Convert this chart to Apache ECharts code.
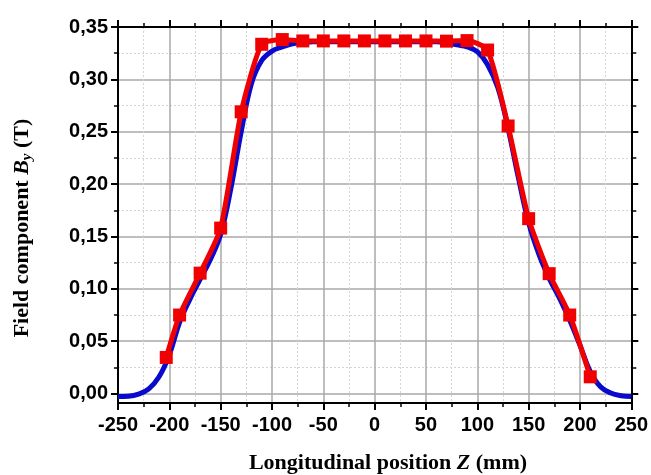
<!DOCTYPE html>
<html>
<head>
<meta charset="utf-8">
<script src="https://cdn.jsdelivr.net/npm/echarts@6/dist/echarts.min.js"></script>
<style>
html,body{margin:0;padding:0;background:#fff;}
#chart{width:651px;height:475px;}
</style>
</head>
<body>
<div id="chart"></div>
<script>
// Measured data (red, with square markers)
var redZ = [-203,-190,-170,-150,-130,-110,-90,-70,-50,-30,-10,10,30,50,70,90,110,130,150,170,190,210];
var redB = [0.0345,0.075,0.115,0.158,0.269,0.3335,0.338,0.3367,0.3367,0.3367,0.3367,0.3367,0.3367,0.3367,0.3365,0.337,0.328,0.2555,0.167,0.1145,0.075,0.016];

// Simulated curve (blue)
var blueZ = [-250,-240,-230,-220,-210,-200,-190,-180,-170,-160,-150,-140,-130,-120,-110,-100,-90,-80,-70,-60,-50,-40,-30,-20,-10,0,10,20,30,40,50,60,70,80,90,100,110,120,130,140,150,160,170,180,190,200,210,220,230,240,250];
var blueB = [-0.0028,-0.0025,-0.0005,0.0045,0.016,0.037,0.068,0.090,0.109,0.128,0.152,0.196,0.250,0.296,0.318,0.327,0.331,0.334,0.335,0.336,0.336,0.336,0.336,0.336,0.336,0.336,0.336,0.336,0.336,0.336,0.336,0.336,0.335,0.333,0.331,0.3265,0.314,0.292,0.253,0.206,0.163,0.133,0.110,0.091,0.070,0.046,0.021,0.0065,0.0005,-0.002,-0.0028];

// Tick labels
var xTicks = [-250,-200,-150,-100,-50,0,50,100,150,200,250];
var yMajor = [0,0.05,0.10,0.15,0.20,0.25,0.30,0.35];
var yMinor = [0.025,0.075,0.125,0.175,0.225,0.275,0.325];

var xTitle = 'Longitudinal position ';
var yTitle = 'Field component ';

function zip(a, b){ return a.map(function(v,i){ return [v, b[i]]; }); }

var chart = echarts.init(document.getElementById('chart'), null, {renderer:'canvas'});
var labelFont = {fontFamily:'Liberation Sans, Arial, sans-serif', fontWeight:'bold', fontSize:20, color:'#000'};
var axisLine = {show:true, onZero:false, lineStyle:{color:'#000', width:2}};
var yMinVal = -0.009, yMaxVal = 0.35;

function yAxisDef(pos, ticks, len, labels, split, showLine){
  return {
    type:'value', position:pos, min:yMinVal, max:yMaxVal,
    splitNumber:7, minInterval:0.05, maxInterval:0.05,
    axisLine: showLine ? axisLine : {show:false, onZero:false},
    axisTick:{show:true, length:len, customValues:ticks, lineStyle:{color:'#000', width: len>5?2:1.5}},
    axisLabel: labels ? Object.assign({show:true, margin:10, customValues:ticks,
      formatter:function(v){ return v.toFixed(2).replace('.', ','); }}, labelFont) : {show:false},
    splitLine: split ? split : {show:false}
  };
}

var option = {
  animation:false,
  backgroundColor:'#fff',
  grid:{left:118, right:19, top:27, bottom:72, containLabel:false},
  xAxis:[
    {type:'value', position:'bottom', min:-250, max:250, interval:50,
     axisLine:axisLine,
     axisTick:{show:true, length:7, lineStyle:{color:'#000', width:2}},
     minorTick:{show:true, splitNumber:2, length:4, lineStyle:{color:'#000', width:1.5}},
     axisLabel:Object.assign({margin:12, customValues:xTicks, formatter:function(v){return String(v);}}, labelFont),
     splitLine:{show:true, lineStyle:{color:'#a8a8a8', width:1.5}},
     minorSplitLine:{show:true, lineStyle:{color:'#d4d4d4', width:1, type:[2,2]}}
    },
    {type:'value', position:'top', min:-250, max:250, interval:50,
     axisLine:axisLine,
     axisTick:{show:true, length:7, lineStyle:{color:'#000', width:2}},
     minorTick:{show:true, splitNumber:2, length:4, lineStyle:{color:'#000', width:1.5}},
     axisLabel:{show:false}, splitLine:{show:false}
    }
  ],
  yAxis:[
    yAxisDef('left', yMinor, 4, false, {show:true, lineStyle:{color:'#d4d4d4', width:1, type:[2,2]}}, false),
    yAxisDef('right', yMinor, 5, false, null, false),
    yAxisDef('left', yMajor, 7, true, {show:true, lineStyle:{color:'#a8a8a8', width:1.5}}, true),
    yAxisDef('right', yMajor, 7, false, null, true)
  ],
  series:[
    {type:'line', name:'sim', xAxisIndex:0, yAxisIndex:2, data:zip(blueZ, blueB),
     smooth:0.4, showSymbol:false, symbol:'none',
     lineStyle:{color:'#0a0acc', width:5}, z:3},
    {type:'line', name:'meas', xAxisIndex:0, yAxisIndex:2, data:zip(redZ, redB),
     smooth:0.2, symbol:'rect', symbolSize:13,
     itemStyle:{color:'#f00000'},
     lineStyle:{color:'#f00000', width:5}, z:4}
  ],
  graphic:[
    {type:'text', x:388, y:463, style:{
      text: xTitle + '{i|Z} (mm)',
      fontFamily:'Liberation Serif, Times New Roman, serif', fontWeight:'bold', fontSize:22, fill:'#000',
      align:'center', verticalAlign:'middle',
      rich:{i:{fontFamily:'Liberation Serif, Times New Roman, serif', fontWeight:'bold', fontStyle:'italic', fontSize:22, fill:'#000'}}
    }},
    {type:'text', x:22, y:228, rotation:Math.PI/2, style:{
      text: yTitle + '{i|B}{sub|y} (T)',
      fontFamily:'Liberation Serif, Times New Roman, serif', fontWeight:'bold', fontSize:22, fill:'#000',
      align:'center', verticalAlign:'middle', lineHeight:26,
      rich:{
        i:{fontFamily:'Liberation Serif, Times New Roman, serif', fontWeight:'bold', fontStyle:'italic', fontSize:22, fill:'#000', lineHeight:26},
        sub:{fontFamily:'Liberation Serif, Times New Roman, serif', fontWeight:'bold', fontStyle:'italic', fontSize:15, fill:'#000', lineHeight:15, verticalAlign:'bottom'}
      }
    }}
  ]
};
chart.setOption(option);
</script>
</body>
</html>
